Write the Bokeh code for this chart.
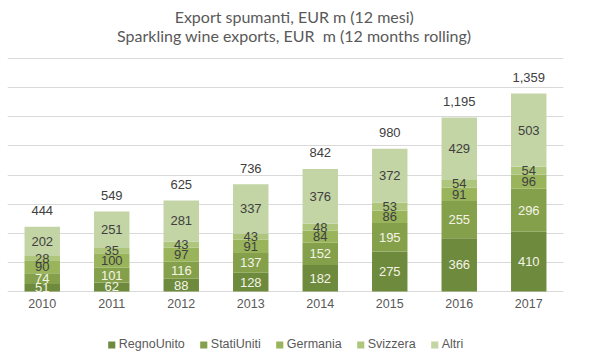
from bokeh.plotting import figure
from bokeh.models import ColumnDataSource, Legend, LegendItem, FixedTicker
from bokeh.core.properties import value
from bokeh.embed import file_html
from bokeh.resources import INLINE

years = ["2010", "2011", "2012", "2013", "2014", "2015", "2016", "2017"]
series = ["RegnoUnito", "StatiUniti", "Germania", "Svizzera", "Altri"]
regno_unito = [51, 62, 88, 128, 182, 275, 366, 410]
stati_uniti = [74, 101, 116, 137, 152, 195, 255, 296]
germania = [90, 100, 97, 91, 84, 86, 91, 96]
svizzera = [28, 35, 43, 43, 48, 53, 54, 54]
altri = [202, 251, 281, 337, 376, 372, 429, 503]
totals = [444, 549, 625, 736, 842, 980, 1195, 1359]
y_ticks = [0, 200, 400, 600, 800, 1000, 1200, 1400, 1600]
title_lines = ["Export spumanti, EUR m (12 mesi)",
               "Sparkling wine exports, EUR \u00a0m (12 months rolling)"]

colors = ["#6e8a3d", "#84a04a", "#99b45b", "#aec67c", "#c3d4a5"]
label_colors = ["#f4f4e6", "#f4f4e6", "#404040", "#404040", "#404040"]
LABEL_FONT = "Liberation Sans"
TITLE_FONT = "Lato"
TEXT_GRAY = "#595959"

# layout: value area 233px tall for 0..1600, a 52px strip above (titles)
# and a 62px strip below (year labels + legend)
VALUE_PX = 233
TOP_PX = 52
STRIP_PX = 60
y_top = y_ticks[-1]
y_start = -y_top * STRIP_PX / VALUE_PX
y_end = y_top + y_top * TOP_PX / VALUE_PX

data = {"year": years, "RegnoUnito": regno_unito, "StatiUniti": stati_uniti,
        "Germania": germania, "Svizzera": svizzera, "Altri": altri}
source = ColumnDataSource(data)

p = figure(x_range=years, y_range=(y_start, y_end),
           frame_width=556, frame_height=TOP_PX + VALUE_PX + STRIP_PX,
           output_backend="svg", toolbar_location=None, title=None,
           min_border_left=7, min_border_right=20, min_border_top=6,
           min_border_bottom=0)

renderers = p.vbar_stack(series, x="year", width=0.51, color=colors,
                         line_color=None, source=source)

# segment labels
cum = [0] * len(years)
for name, vals, lc in zip(series, [regno_unito, stati_uniti, germania, svizzera, altri], label_colors):
    mids = [c + v / 2 for c, v in zip(cum, vals)]
    cum = [c + v for c, v in zip(cum, vals)]
    p.text(x=years, y=mids, text=[str(v) for v in vals], text_align="center",
           text_baseline="middle", text_font=value(LABEL_FONT),
           text_font_size="13px", text_color=lc)

# totals
p.text(x=years, y=totals, text=[f"{t:,}" for t in totals], text_align="center",
       text_baseline="middle", y_offset=-16, text_font=value(LABEL_FONT),
       text_font_size="13px", text_color="#404040")

# category (year) labels under the baseline
p.text(x=years, y=[0] * len(years), text=years, text_align="center",
       text_baseline="middle", y_offset=12, text_font=value(LABEL_FONT),
       text_font_size="12.5px", text_color=TEXT_GRAY)

# two-line title, centred above the plot
for line, off in zip(title_lines, [-42, -23]):
    p.text(x=[years[4]], y=[y_top], text=[line], text_align="center",
           text_baseline="middle", x_offset=-26, y_offset=off,
           text_font=value(TITLE_FONT), text_font_size="16px",
           text_color=TEXT_GRAY)

p.xaxis.visible = False
p.yaxis.visible = False
p.ygrid.ticker = FixedTicker(ticks=y_ticks)
p.ygrid.grid_line_color = "#d9d9d9"
p.xgrid.grid_line_color = None
p.outline_line_color = None

legend = Legend(items=[LegendItem(label=s, renderers=[r]) for s, r in zip(series, renderers)],
                orientation="horizontal", location="bottom_center",
                label_text_font=LABEL_FONT, label_text_font_size="12.5px",
                label_text_color=TEXT_GRAY, glyph_width=9, glyph_height=9,
                label_standoff=3, spacing=14, border_line_color=None,
                background_fill_alpha=0, margin=0, padding=4, label_height=12)
p.add_layout(legend, "center")

open("out.html", "w").write(file_html(p, INLINE))
